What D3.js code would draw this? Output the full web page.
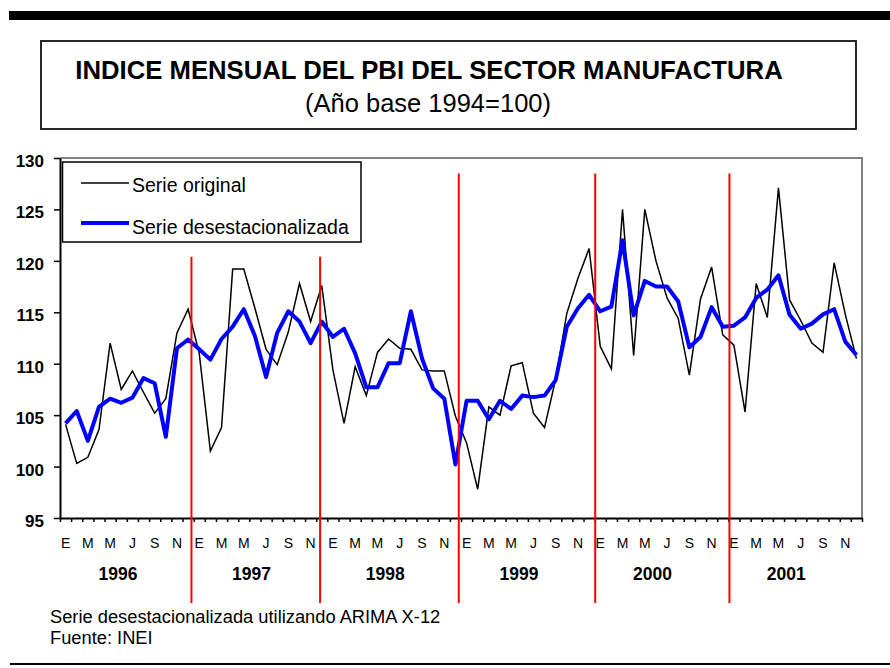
<!DOCTYPE html>
<html>
<head>
<meta charset="utf-8">
<script src="https://cdn.jsdelivr.net/npm/d3@7"></script>
<style>
  body { margin: 0; background: #fff; }
  text { font-family: "Liberation Sans", Arial, sans-serif; fill: #000; }
</style>
</head>
<body>
<svg id="chart"></svg>
<script>
// Indice mensual del PBI manufactura, 1996-2001

var w = 890, h = 668;
var plotLeft = 60, plotRight = 862, plotTop = 158, plotBottom = 518;

var years = [1996, 1997, 1998, 1999, 2000, 2001];
var monthLabels = ["E", "", "M", "", "M", "", "J", "", "S", "", "N", ""];
var yTicks = [95, 100, 105, 110, 115, 120, 125, 130];

var serieOriginal = [
  104.1, 100.3, 100.9, 103.6, 112.0, 107.5, 109.3, 107.2, 105.2, 106.6, 113.0, 115.3,
  111.0, 101.5, 103.8, 119.2, 119.2, 115.4, 111.4, 109.9, 113.1, 117.8, 114.1, 117.6,
  109.4, 104.2, 109.7, 106.9, 111.1, 112.4, 111.5, 111.4, 109.4, 109.3, 109.3, 104.9,
  102.3, 97.8, 105.8, 105.0, 109.8, 110.1, 105.2, 103.8, 108.5, 114.9, 118.3, 121.2,
  111.7, 109.5, 125.0, 110.8, 125.0, 120.0, 116.4, 114.4, 108.9, 116.3, 119.4, 112.8,
  111.8, 105.3, 117.8, 114.5, 127.1, 116.2, 114.2, 112.0, 111.1, 119.8, 114.8, 110.5
];

var serieDesest = [
  104.2, 105.4, 102.5, 105.8, 106.6, 106.2, 106.7, 108.6, 108.1, 102.9, 111.5, 112.35,
  111.4, 110.4, 112.4, 113.6, 115.3, 112.7, 108.7, 113.0, 115.1, 114.1, 112.0, 114.1,
  112.6, 113.4, 111.0, 107.7, 107.7, 110.05, 110.05, 115.1, 110.5, 107.6, 106.6, 100.2,
  106.4, 106.4, 104.6, 106.4, 105.6, 106.9, 106.75, 106.9, 108.4, 113.6, 115.4, 116.7,
  115.1, 115.55, 122.0, 114.7, 118.05, 117.5, 117.5, 116.05, 111.6, 112.6, 115.5, 113.6,
  113.7, 114.5, 116.4, 117.2, 118.6, 114.75, 113.4, 113.9, 114.8, 115.3, 112.15, 110.85
];

// red year separators (in month units) and where they start (index value)
var separators = [11.8, 23.35, 35.8, 48.05, 60.1];
var separatorTops = [120.4, 120.4, 128.5, 128.5, 128.5];

var svg = d3.select('#chart').attr('width', w).attr('height', h);

var x = d3.scaleLinear().domain([0, 72]).range([plotLeft, plotRight]);
var y = d3.scaleLinear().domain([95, 130]).range([plotBottom, plotTop]);

// top black bar and bottom rule
svg.append('rect').attr('x', 9).attr('y', 11).attr('width', 881).attr('height', 9).attr('fill', '#000');
svg.append('line').attr('x1', 10).attr('x2', 890).attr('y1', 664).attr('y2', 664)
   .attr('stroke', '#000').attr('stroke-width', 2);

// title box
svg.append('rect').attr('x', 41).attr('y', 41).attr('width', 815).attr('height', 88)
   .attr('fill', 'none').attr('stroke', '#111').attr('stroke-width', 1.8);
svg.append('text').attr('x', 429).attr('y', 79).attr('text-anchor', 'middle')
   .style('font-size', '25.7px').style('font-weight', 'bold')
   .text('INDICE MENSUAL DEL PBI DEL SECTOR MANUFACTURA');
svg.append('text').attr('x', 428).attr('y', 112).attr('text-anchor', 'middle')
   .style('font-size', '25.5px')
   .text('(Año base 1994=100)');

// plot area frame (gray top / right)
svg.append('path')
   .attr('d', 'M' + plotLeft + ',' + plotTop + 'H' + plotRight + 'V' + plotBottom)
   .attr('fill', 'none').attr('stroke', '#808080').attr('stroke-width', 2);

// series
var line = d3.line()
  .x(function(d, i) { return x(i + 0.5); })
  .y(function(d) { return y(d); });

svg.append('path').datum(serieOriginal).attr('d', line)
   .attr('fill', 'none').attr('stroke', '#000').attr('stroke-width', 1.5);
svg.append('path').datum(serieDesest).attr('d', line)
   .attr('fill', 'none').attr('stroke', '#0000ff').attr('stroke-width', 4)
   .attr('stroke-linejoin', 'round');

// axes
var yAxis = svg.append('g').attr('transform', 'translate(' + plotLeft + ',0)')
  .call(d3.axisLeft(y).tickValues(yTicks).tickSize(6).tickSizeOuter(0).tickPadding(10));
yAxis.selectAll('text').style('font-size', '17px').style('font-weight', 'bold')
  .attr('dy', '0.5em');

var xAxis = svg.append('g').attr('transform', 'translate(0,' + plotBottom + ')')
  .call(d3.axisBottom(x).tickValues(d3.range(0, 73)).tickSize(4).tickSizeOuter(0).tickFormat(''));

svg.selectAll('.domain').attr('stroke', '#000').attr('stroke-width', 2);
svg.selectAll('.tick line').attr('stroke', '#000').attr('stroke-width', 1.5);

// month letters and years
years.forEach(function(yr, k) {
  monthLabels.forEach(function(m, j) {
    if (!m) return;
    svg.append('text').attr('x', x(k * 12 + j + 0.5)).attr('y', 548)
       .attr('text-anchor', 'middle').style('font-size', '14px').text(m);
  });
  svg.append('text').attr('x', x(k * 12 + 5.2)).attr('y', 580)
     .attr('text-anchor', 'middle').style('font-size', '17.5px').style('font-weight', 'bold')
     .text(yr);
});

// red separators
separators.forEach(function(s, k) {
  svg.append('line')
     .attr('x1', x(s)).attr('x2', x(s))
     .attr('y1', y(separatorTops[k])).attr('y2', 603)
     .attr('stroke', '#ff0000').attr('stroke-width', 2);
});

// legend
var lg = svg.append('g');
lg.append('rect').attr('x', 62.5).attr('y', 162).attr('width', 298.5).attr('height', 80)
  .attr('fill', '#fff').attr('stroke', '#000').attr('stroke-width', 1.5);
lg.append('line').attr('x1', 81).attr('x2', 129).attr('y1', 183).attr('y2', 183)
  .attr('stroke', '#000').attr('stroke-width', 1.5);
lg.append('text').attr('x', 132).attr('y', 192).style('font-size', '19.5px').text('Serie original');
lg.append('line').attr('x1', 81).attr('x2', 129).attr('y1', 223).attr('y2', 223)
  .attr('stroke', '#0000ff').attr('stroke-width', 4);
lg.append('text').attr('x', 132).attr('y', 234).style('font-size', '19.5px').text('Serie desestacionalizada');

// notes
svg.append('text').attr('x', 50).attr('y', 623).style('font-size', '18.3px')
   .text('Serie desestacionalizada utilizando ARIMA X-12');
svg.append('text').attr('x', 50).attr('y', 644).style('font-size', '18.3px')
   .text('Fuente: INEI');
</script>
</body>
</html>
